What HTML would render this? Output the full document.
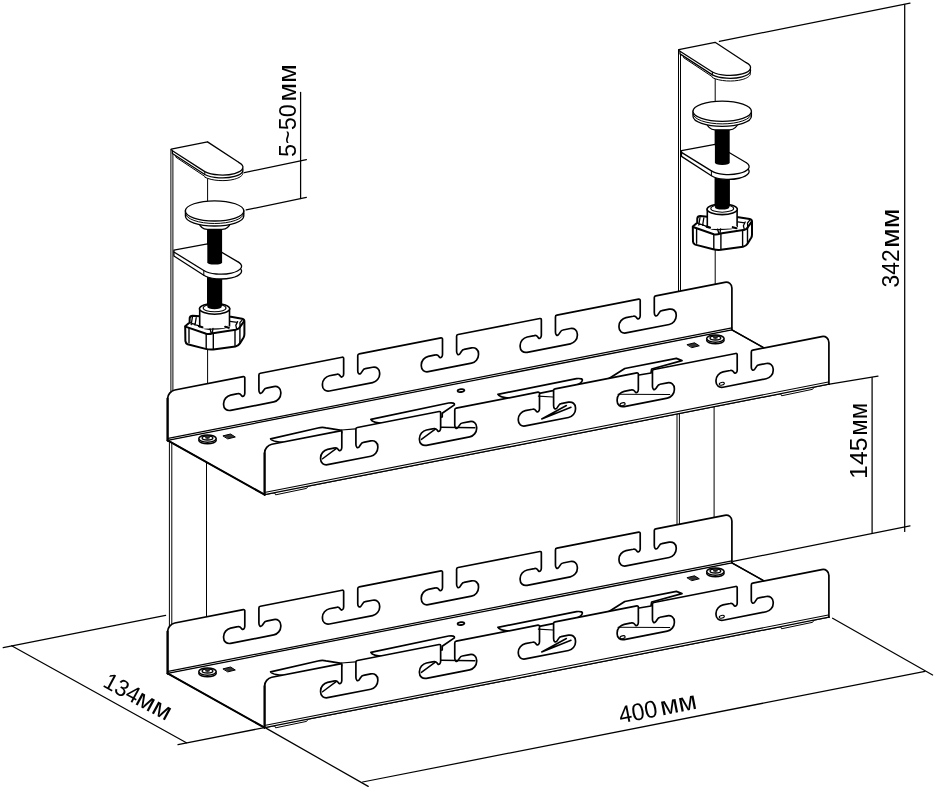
<!DOCTYPE html>
<html lang="en"><head><meta charset="utf-8"><title>Cable tray dimensions</title><style>html,body{margin:0;padding:0;background:#fff}svg{display:block;will-change:transform}</style></head><body><svg width="935" height="789" viewBox="0 0 935 789" stroke-linecap="round"><g transform="translate(0 0)">
<path d="M170.9 149.3L170.9 415M172.9 151L172.9 415M207.6 142L207.6 415M169.4 415L169.4 640M171.8 415L171.8 640M206.5 415L206.5 640" fill="none" stroke="#000" stroke-width="1.0" />
<rect x="207.3" y="272" width="14.8" height="38" fill="#000"/>
<path d="M185.2 326.2L185.4 341.2Q185.6 343.4 187.6 344.2L205.6 348.9Q209.5 349.8 213.3 349.4L235.4 346.4Q238.4 345.8 239.9 343.4L243.6 337.4Q244.4 336 244.4 334L244.4 321.4Q244.4 319.2 242.1 318.7L230.9 316.8L199.8 316.3L192.8 315.7Q190 315.8 189.7 318L189.6 322.4Z" fill="#fff" stroke="#000" stroke-width="2.0" stroke-linejoin="round"/>
<path d="M185.4 326.6L187.6 327.4L206.2 333.8Q209 334.4 212.8 333.2L235.6 329.7Q239.4 328.8 240.4 326.4L244 321.4" fill="none" stroke="#000" stroke-width="2.0" stroke-linejoin="round"/>
<path d="M189 328.4L189 342.8M206.2 334.4L206.2 348.8M213.3 333.6L213.3 349.2M235 330L235 345.8M239.9 327.8L239.9 343.2" fill="none" stroke="#000" stroke-width="1.4" />
<path d="M192.4 317.2L191.2 324.6M196.2 317.6L195 325M189.8 322.6L199.6 326.2M237.6 321.6L235.8 325.4L236.8 329.4M242.2 319.8L239.9 322.6L240.2 327.4M230 321.4L237.2 322.4" fill="none" stroke="#000" stroke-width="1.3" stroke-linejoin="round"/>
<path d="M199.7 308.8L199.7 326.6Q206 329.6 211 329L218 328.6Q224 328.4 229.5 326L229.5 308.8Z" fill="#fff" stroke="#000" stroke-width="1.6" />
<path d="M201.2 327.4L228.2 326.8" fill="none" stroke="#fff" stroke-width="2.6" />
<path d="M199 326.2L202.4 327.2M225.2 326.8L228.8 327.8" fill="none" stroke="#000" stroke-width="2.2" />
<path d="M210 328.8L211.2 333M213 328.4L212.4 332.4" fill="none" stroke="#000" stroke-width="1.3" />
<ellipse cx="214.6" cy="308.8" rx="15.1" ry="5.4" fill="#fff" stroke="#000" stroke-width="1.6"/>
<ellipse cx="214.6" cy="308" rx="11.4" ry="3.8" fill="#fff" stroke="#000" stroke-width="1.1"/>
<ellipse cx="214.5" cy="306.8" rx="7.2" ry="2.4" fill="#000"/>
<rect x="207.3" y="276" width="14.8" height="30.4" fill="#000"/>
<path d="M238.8 262.4L238.8 267.2C244.43 270.85 241.16 275.61 231.5 277.85C221.84 280.09 209.43 278.95 203.8 275.3L173.9 256L173.9 252Z" fill="#fff" stroke="#000" stroke-width="1.3" stroke-linejoin="round"/>
<path d="M173.9 250.2L207.5 243.9L238.8 262.4C244.43 266.05 241.16 270.81 231.5 273.05C221.84 275.29 209.43 274.15 203.8 270.5L173.9 252Z" fill="#fff" stroke="#000" stroke-width="1.3" stroke-linejoin="round"/>
<path d="M203.8 270.5L203.8 275.3" stroke="#000" stroke-width="1.0" fill="none"/>
<path d="M207.3 226L207.3 262.2Q207.3 264.6 214.7 264.6Q222.1 264.6 222.1 262.2L222.1 226Z" fill="#000"/>
<path d="M198.6 222Q200.6 229 207.3 229.4L222.1 229.4Q228.8 229 230.8 222Z" fill="#fff" stroke="#000" stroke-width="1.2" />
<path d="M185.4 210.8L185.4 215.9A29.2 10.1 0 0 0 243.8 215.9L243.8 210.8Z" fill="#fff" stroke="#000" stroke-width="1.3" />
<path d="M185.4 213.4A29.2 10.1 0 0 0 243.8 213.4" fill="none" stroke="#000" stroke-width="1.0" />
<ellipse cx="214.6" cy="210.9" rx="29.2" ry="10.1" fill="#fff" stroke="#000" stroke-width="1.3"/>
<path d="M238.6 165L238.6 167.9C245.72 171.55 243.93 176.58 234.6 179.15C225.27 181.72 211.92 180.85 204.8 177.2L204.8 176.4L175.9 157.2L175.9 153.4" fill="#fff" stroke="#000" stroke-width="1.0" />
<path d="M238.6 162.3L238.6 165.2C245.72 168.85 243.93 173.88 234.6 176.45C225.27 179.02 211.92 178.15 204.8 174.5L172.4 153.5L172.4 150.8Z" fill="#fff" stroke="#000" stroke-width="1.3" stroke-linejoin="round"/>
<path d="M171.2 149.2L207.5 141.9L238.6 162.3C245.72 165.95 243.93 170.98 234.6 173.55C225.27 176.12 211.92 175.25 204.8 171.6L172.4 150.8Z" fill="#fff" stroke="#000" stroke-width="1.3" stroke-linejoin="round"/>
<path d="M204.8 171.6L204.8 174.5" stroke="#000" stroke-width="1.0" fill="none"/>
</g>
<g transform="translate(507.6 -99.6)">
<path d="M170.9 149.3L170.9 415M172.9 151L172.9 415M207.6 142L207.6 415M169.4 415L169.4 640M171.8 415L171.8 640M206.5 415L206.5 640" fill="none" stroke="#000" stroke-width="1.0" />
<rect x="207.3" y="272" width="14.8" height="38" fill="#000"/>
<path d="M185.2 326.2L185.4 341.2Q185.6 343.4 187.6 344.2L205.6 348.9Q209.5 349.8 213.3 349.4L235.4 346.4Q238.4 345.8 239.9 343.4L243.6 337.4Q244.4 336 244.4 334L244.4 321.4Q244.4 319.2 242.1 318.7L230.9 316.8L199.8 316.3L192.8 315.7Q190 315.8 189.7 318L189.6 322.4Z" fill="#fff" stroke="#000" stroke-width="2.0" stroke-linejoin="round"/>
<path d="M185.4 326.6L187.6 327.4L206.2 333.8Q209 334.4 212.8 333.2L235.6 329.7Q239.4 328.8 240.4 326.4L244 321.4" fill="none" stroke="#000" stroke-width="2.0" stroke-linejoin="round"/>
<path d="M189 328.4L189 342.8M206.2 334.4L206.2 348.8M213.3 333.6L213.3 349.2M235 330L235 345.8M239.9 327.8L239.9 343.2" fill="none" stroke="#000" stroke-width="1.4" />
<path d="M192.4 317.2L191.2 324.6M196.2 317.6L195 325M189.8 322.6L199.6 326.2M237.6 321.6L235.8 325.4L236.8 329.4M242.2 319.8L239.9 322.6L240.2 327.4M230 321.4L237.2 322.4" fill="none" stroke="#000" stroke-width="1.3" stroke-linejoin="round"/>
<path d="M199.7 308.8L199.7 326.6Q206 329.6 211 329L218 328.6Q224 328.4 229.5 326L229.5 308.8Z" fill="#fff" stroke="#000" stroke-width="1.6" />
<path d="M201.2 327.4L228.2 326.8" fill="none" stroke="#fff" stroke-width="2.6" />
<path d="M199 326.2L202.4 327.2M225.2 326.8L228.8 327.8" fill="none" stroke="#000" stroke-width="2.2" />
<path d="M210 328.8L211.2 333M213 328.4L212.4 332.4" fill="none" stroke="#000" stroke-width="1.3" />
<ellipse cx="214.6" cy="308.8" rx="15.1" ry="5.4" fill="#fff" stroke="#000" stroke-width="1.6"/>
<ellipse cx="214.6" cy="308" rx="11.4" ry="3.8" fill="#fff" stroke="#000" stroke-width="1.1"/>
<ellipse cx="214.5" cy="306.8" rx="7.2" ry="2.4" fill="#000"/>
<rect x="207.3" y="276" width="14.8" height="30.4" fill="#000"/>
<path d="M238.8 262.4L238.8 267.2C244.43 270.85 241.16 275.61 231.5 277.85C221.84 280.09 209.43 278.95 203.8 275.3L173.9 256L173.9 252Z" fill="#fff" stroke="#000" stroke-width="1.3" stroke-linejoin="round"/>
<path d="M173.9 250.2L207.5 243.9L238.8 262.4C244.43 266.05 241.16 270.81 231.5 273.05C221.84 275.29 209.43 274.15 203.8 270.5L173.9 252Z" fill="#fff" stroke="#000" stroke-width="1.3" stroke-linejoin="round"/>
<path d="M203.8 270.5L203.8 275.3" stroke="#000" stroke-width="1.0" fill="none"/>
<path d="M207.3 226L207.3 262.2Q207.3 264.6 214.7 264.6Q222.1 264.6 222.1 262.2L222.1 226Z" fill="#000"/>
<path d="M198.6 222Q200.6 229 207.3 229.4L222.1 229.4Q228.8 229 230.8 222Z" fill="#fff" stroke="#000" stroke-width="1.2" />
<path d="M185.4 210.8L185.4 215.9A29.2 10.1 0 0 0 243.8 215.9L243.8 210.8Z" fill="#fff" stroke="#000" stroke-width="1.3" />
<path d="M185.4 213.4A29.2 10.1 0 0 0 243.8 213.4" fill="none" stroke="#000" stroke-width="1.0" />
<ellipse cx="214.6" cy="210.9" rx="29.2" ry="10.1" fill="#fff" stroke="#000" stroke-width="1.3"/>
<path d="M238.6 165L238.6 167.9C245.72 171.55 243.93 176.58 234.6 179.15C225.27 181.72 211.92 180.85 204.8 177.2L204.8 176.4L175.9 157.2L175.9 153.4" fill="#fff" stroke="#000" stroke-width="1.0" />
<path d="M238.6 162.3L238.6 165.2C245.72 168.85 243.93 173.88 234.6 176.45C225.27 179.02 211.92 178.15 204.8 174.5L172.4 153.5L172.4 150.8Z" fill="#fff" stroke="#000" stroke-width="1.3" stroke-linejoin="round"/>
<path d="M171.2 149.2L207.5 141.9L238.6 162.3C245.72 165.95 243.93 170.98 234.6 173.55C225.27 176.12 211.92 175.25 204.8 171.6L172.4 150.8Z" fill="#fff" stroke="#000" stroke-width="1.3" stroke-linejoin="round"/>
<path d="M204.8 171.6L204.8 174.5" stroke="#000" stroke-width="1.0" fill="none"/>
</g>
<path d="M167.6 440.4L167.6 398.6C167.6 394.62 170.82 390.77 174.8 389.99L243.3 376.58C244.13 376.42 244.8 376.96 244.8 377.78L244.8 393.28C244.8 395.48 243.2 397 242 396.03C241 395.23 240.6 392.91 237.8 393.65L230.6 395.06C226.73 395.82 223.6 399.57 223.6 403.44L223.6 404.74C223.6 408.6 226.73 411.12 230.6 410.36L273.8 401.91C277.67 401.15 280.8 397.4 280.8 393.54L280.8 392.24C280.8 388.37 277.67 385.85 273.8 386.61L266.4 388.05C264.1 388.21 263.5 391.22 261.9 392.74C260.5 394.01 258.9 393.12 258.9 390.02L258.9 375.02C258.9 374.2 259.57 373.39 260.4 373.23L342.15 357.22C342.98 357.06 343.65 357.6 343.65 358.43L343.65 373.93C343.65 376.13 342.05 377.64 340.85 376.68C339.85 375.87 339.45 373.55 336.65 374.3L329.45 375.71C325.58 376.47 322.45 380.21 322.45 384.08L322.45 385.38C322.45 389.25 325.58 391.77 329.45 391.01L372.65 382.55C376.52 381.79 379.65 378.05 379.65 374.18L379.65 372.88C379.65 369.01 376.52 366.49 372.65 367.25L365.25 368.7C362.95 368.85 362.35 371.87 360.75 373.38C359.35 374.66 357.75 373.77 357.75 370.67L357.75 355.67C357.75 354.84 358.42 354.04 359.25 353.87L441 337.87C441.83 337.71 442.5 338.25 442.5 339.07L442.5 354.57C442.5 356.77 440.9 358.29 439.7 357.32C438.7 356.52 438.3 354.2 435.5 354.95L428.3 356.35C424.43 357.11 421.3 360.86 421.3 364.73L421.3 366.03C421.3 369.89 424.43 372.41 428.3 371.65L471.5 363.2C475.37 362.44 478.5 358.69 478.5 354.83L478.5 353.53C478.5 349.66 475.37 347.14 471.5 347.9L464.1 349.35C461.8 349.5 461.2 352.51 459.6 354.03C458.2 355.3 456.6 354.41 456.6 351.31L456.6 336.31C456.6 335.49 457.27 334.68 458.1 334.52L539.85 318.51C540.68 318.35 541.35 318.89 541.35 319.72L541.35 335.22C541.35 337.42 539.75 338.93 538.55 337.97C537.55 337.16 537.15 334.84 534.35 335.59L527.15 337C523.28 337.76 520.15 341.5 520.15 345.37L520.15 346.67C520.15 350.54 523.28 353.06 527.15 352.3L570.35 343.84C574.22 343.08 577.35 339.34 577.35 335.47L577.35 334.17C577.35 330.3 574.22 327.78 570.35 328.54L562.95 329.99C560.65 330.14 560.05 333.16 558.45 334.67C557.05 335.95 555.45 335.06 555.45 331.96L555.45 316.96C555.45 316.13 556.12 315.33 556.95 315.17L638.7 299.16C639.53 299 640.2 299.54 640.2 300.36L640.2 315.86C640.2 318.06 638.6 319.58 637.4 318.61C636.4 317.81 636 315.49 633.2 316.24L626 317.65C622.13 318.4 619 322.15 619 326.02L619 327.32C619 331.18 622.13 333.7 626 332.95L669.2 324.49C673.07 323.73 676.2 319.98 676.2 316.12L676.2 314.82C676.2 310.95 673.07 308.43 669.2 309.19L661.8 310.64C659.5 310.79 658.9 313.8 657.3 315.32C655.9 316.59 654.3 315.7 654.3 312.6L654.3 297.6C654.3 296.78 654.97 295.97 655.8 295.81L724.7 282.32C728.68 281.54 731.9 284.13 731.9 288.11L731.9 329.91" fill="#fff" stroke="#000" stroke-width="1.7" stroke-linejoin="round"/>
<path d="M168.2 438.38L731.9 327.81" stroke="#000" stroke-width="1.25" fill="none"/>
<path d="M167.9 440.84L731.9 330.41" stroke="#000" stroke-width="1.25" fill="none"/>
<path d="M167.6 440.4L167.6 398.6" stroke="#000" stroke-width="2.1" fill="none"/>
<path d="M167.6 440.4L731.9 329.91L828.9 384.21L264.6 494.7Z" fill="#fff" stroke="#000" stroke-width="1.25" stroke-linejoin="round"/>
<path d="M167.6 440.4L264.6 494.7" stroke="#000" stroke-width="2.0" fill="none"/>
<path d="M731.9 329.91L828.9 384.21" stroke="#000" stroke-width="1.4" fill="none"/>
<ellipse cx="207.5" cy="440.2" rx="8.7" ry="3.6" fill="#fff" stroke="#000" stroke-width="1.55"/>
<ellipse cx="207.5" cy="438.6" rx="8.7" ry="3.6" fill="#fff" stroke="#000" stroke-width="1.55"/>
<ellipse cx="207.5" cy="438" rx="5.4" ry="2.0" fill="#fff" stroke="#000" stroke-width="1.3"/>
<ellipse cx="207.5" cy="437.8" rx="2.6" ry="1.1" fill="#222" stroke="none"/>
<ellipse cx="715.4" cy="340.2" rx="8.7" ry="3.6" fill="#fff" stroke="#000" stroke-width="1.55"/>
<ellipse cx="715.4" cy="338.6" rx="8.7" ry="3.6" fill="#fff" stroke="#000" stroke-width="1.55"/>
<ellipse cx="715.4" cy="338" rx="5.4" ry="2.0" fill="#fff" stroke="#000" stroke-width="1.3"/>
<ellipse cx="715.4" cy="337.8" rx="2.6" ry="1.1" fill="#222" stroke="none"/>
<path d="M223.3 435.8L230.5 434L235.3 437L228.1 438.8Z" fill="#333" stroke="#000" stroke-width="1.0" />
<path d="M687.3 344.6L694.5 342.8L699.3 345.8L692.1 347.6Z" fill="#333" stroke="#000" stroke-width="1.0" />
<ellipse cx="461" cy="390.6" rx="3.4" ry="1.4" fill="#fff" stroke="#000" stroke-width="1.8" transform="rotate(-8 461 390.6)"/>
<path d="M270.6 438.8 L318 428 Q322 427 326 427.8 L341.6 430.4 L341.6 433 L290 442.6 Q272 442.4 270.6 438.8 Z" fill="#fff" stroke="#000" stroke-width="1.75" stroke-linejoin="round"/>
<path d="M370.9 419.4 L448.6 403 Q455 402.2 454.4 404.9 L442.2 413.3 L442.2 417 L386 423.4 Q372 423 370.9 419.4 Z" fill="#fff" stroke="#000" stroke-width="1.75" stroke-linejoin="round"/>
<path d="M497.9 394.3 L576.5 378.6 Q583.5 378 582.1 381 Q581 383.6 573 386.6 L513 398.6 Q499 397.6 497.9 394.3 Z" fill="#fff" stroke="#000" stroke-width="1.75" stroke-linejoin="round"/>
<path d="M609 378.6 L624.8 368.5 L676.4 358.4 L682 360.6 L651.7 369 L651 373 L609 380 Z" fill="#fff" stroke="#000" stroke-width="1.75" stroke-linejoin="round"/>
<path d="M341.6 430 L355.6 428.8 " fill="none" stroke="#000" stroke-width="1.2" />
<path d="M274.6 492.74L275.6 494.84L306.6 488.38L308 486.28" fill="#fff" stroke="#000" stroke-width="1.0" />
<path d="M780.6 393.67L781.6 395.77L812.6 389.3L814 387.2" fill="#fff" stroke="#000" stroke-width="1.0" />
<path d="M264.6 494.7L264.6 452.9C264.6 448.92 267.82 445.07 271.8 444.29L340.3 430.88C341.13 430.72 341.8 431.26 341.8 432.08L341.8 447.58C341.8 449.78 340.2 451.3 339 450.33C338 449.53 337.6 447.21 334.8 447.95L327.6 449.36C323.73 450.12 320.6 453.87 320.6 457.74L320.6 459.04C320.6 462.9 323.73 465.42 327.6 464.66L370.8 456.21C374.67 455.45 377.8 451.7 377.8 447.84L377.8 446.54C377.8 442.67 374.67 440.15 370.8 440.91L363.4 442.35C361.1 442.51 360.5 445.52 358.9 447.04C357.5 448.31 355.9 447.42 355.9 444.32L355.9 429.32C355.9 428.5 356.57 427.69 357.4 427.53L439.15 411.52C439.98 411.36 440.65 411.9 440.65 412.73L440.65 428.23C440.65 430.43 439.05 431.94 437.85 430.98C436.85 430.17 436.45 427.85 433.65 428.6L426.45 430.01C422.58 430.77 419.45 434.51 419.45 438.38L419.45 439.68C419.45 443.55 422.58 446.07 426.45 445.31L469.65 436.85C473.52 436.09 476.65 432.35 476.65 428.48L476.65 427.18C476.65 423.31 473.52 420.79 469.65 421.55L462.25 423C459.95 423.15 459.35 426.17 457.75 427.68C456.35 428.96 454.75 428.07 454.75 424.97L454.75 409.97C454.75 409.14 455.42 408.34 456.25 408.17L538 392.17C538.83 392.01 539.5 392.55 539.5 393.37L539.5 408.87C539.5 411.07 537.9 412.59 536.7 411.62C535.7 410.82 535.3 408.5 532.5 409.25L525.3 410.65C521.43 411.41 518.3 415.16 518.3 419.03L518.3 420.33C518.3 424.19 521.43 426.71 525.3 425.95L568.5 417.5C572.37 416.74 575.5 412.99 575.5 409.13L575.5 407.83C575.5 403.96 572.37 401.44 568.5 402.2L561.1 403.65C558.8 403.8 558.2 406.81 556.6 408.33C555.2 409.6 553.6 408.71 553.6 405.61L553.6 390.61C553.6 389.79 554.27 388.98 555.1 388.82L636.85 372.81C637.68 372.65 638.35 373.19 638.35 374.02L638.35 389.52C638.35 391.72 636.75 393.23 635.55 392.27C634.55 391.46 634.15 389.14 631.35 389.89L624.15 391.3C620.28 392.06 617.15 395.8 617.15 399.67L617.15 400.97C617.15 404.84 620.28 407.36 624.15 406.6L667.35 398.14C671.22 397.38 674.35 393.64 674.35 389.77L674.35 388.47C674.35 384.6 671.22 382.08 667.35 382.84L659.95 384.29C657.65 384.44 657.05 387.46 655.45 388.97C654.05 390.25 652.45 389.36 652.45 386.26L652.45 371.26C652.45 370.43 653.12 369.63 653.95 369.47L735.7 353.46C736.53 353.3 737.2 353.84 737.2 354.66L737.2 370.16C737.2 372.36 735.6 373.88 734.4 372.91C733.4 372.11 733 369.79 730.2 370.54L723 371.95C719.13 372.7 716 376.45 716 380.32L716 381.62C716 385.48 719.13 388 723 387.25L766.2 378.79C770.07 378.03 773.2 374.28 773.2 370.42L773.2 369.12C773.2 365.25 770.07 362.73 766.2 363.49L758.8 364.94C756.5 365.09 755.9 368.1 754.3 369.62C752.9 370.89 751.3 370 751.3 366.9L751.3 351.9C751.3 351.08 751.97 350.27 752.8 350.11L821.7 336.62C825.68 335.84 828.9 338.43 828.9 342.41L828.9 384.21" fill="#fff" stroke="#000" stroke-width="1.7" stroke-linejoin="round"/>
<path d="M264.6 494.7L828.9 384.21" stroke="#000" stroke-width="1.2" fill="none"/>
<path d="M265.6 492.2L828.3 382.03" stroke="#000" stroke-width="1.1" fill="none"/>
<path d="M264.6 494.7L264.6 452.9" stroke="#000" stroke-width="2.0" fill="none"/>
<path d="M322.55 458.75L336.45 448.43" stroke="#000" stroke-width="1.5" fill="none"/>
<path d="M421.4 439.4L435.3 429.08" stroke="#000" stroke-width="1.5" fill="none"/>
<path d="M441.2 427.3 L474.9 427.8 " fill="none" stroke="#000" stroke-width="1.4" />
<path d="M538.3 396.1 L552.9 397 " fill="none" stroke="#000" stroke-width="1.1" />
<path d="M566.4 405.5 L541.7 419 L571 407.2 " fill="none" stroke="#000" stroke-width="1.5" stroke-linejoin="round"/>
<path d="M618 394.3 L669.7 394.5 " fill="none" stroke="#000" stroke-width="1.1" />
<ellipse cx="622.6" cy="404.2" rx="2.6" ry="1.4" fill="none" stroke="#000" stroke-width="1.1" transform="rotate(-15 622.6 404.2)"/>
<ellipse cx="721.8" cy="383.8" rx="2.6" ry="1.3" fill="none" stroke="#000" stroke-width="1.1" transform="rotate(-15 721.8 383.8)"/>
<path d="M167.6 673.4L167.6 631.6C167.6 627.62 170.82 623.77 174.8 622.99L243.3 609.58C244.13 609.42 244.8 609.96 244.8 610.78L244.8 626.28C244.8 628.48 243.2 630 242 629.03C241 628.23 240.6 625.91 237.8 626.65L230.6 628.06C226.73 628.82 223.6 632.57 223.6 636.44L223.6 637.74C223.6 641.6 226.73 644.12 230.6 643.36L273.8 634.91C277.67 634.15 280.8 630.4 280.8 626.54L280.8 625.24C280.8 621.37 277.67 618.85 273.8 619.61L266.4 621.05C264.1 621.21 263.5 624.22 261.9 625.74C260.5 627.01 258.9 626.12 258.9 623.02L258.9 608.02C258.9 607.2 259.57 606.39 260.4 606.23L342.15 590.22C342.98 590.06 343.65 590.6 343.65 591.43L343.65 606.93C343.65 609.13 342.05 610.64 340.85 609.68C339.85 608.87 339.45 606.55 336.65 607.3L329.45 608.71C325.58 609.47 322.45 613.21 322.45 617.08L322.45 618.38C322.45 622.25 325.58 624.77 329.45 624.01L372.65 615.55C376.52 614.79 379.65 611.05 379.65 607.18L379.65 605.88C379.65 602.01 376.52 599.49 372.65 600.25L365.25 601.7C362.95 601.85 362.35 604.87 360.75 606.38C359.35 607.66 357.75 606.77 357.75 603.67L357.75 588.67C357.75 587.84 358.42 587.04 359.25 586.87L441 570.87C441.83 570.71 442.5 571.25 442.5 572.07L442.5 587.57C442.5 589.77 440.9 591.29 439.7 590.32C438.7 589.52 438.3 587.2 435.5 587.95L428.3 589.35C424.43 590.11 421.3 593.86 421.3 597.73L421.3 599.03C421.3 602.89 424.43 605.41 428.3 604.65L471.5 596.2C475.37 595.44 478.5 591.69 478.5 587.83L478.5 586.53C478.5 582.66 475.37 580.14 471.5 580.9L464.1 582.35C461.8 582.5 461.2 585.51 459.6 587.03C458.2 588.3 456.6 587.41 456.6 584.31L456.6 569.31C456.6 568.49 457.27 567.68 458.1 567.52L539.85 551.51C540.68 551.35 541.35 551.89 541.35 552.72L541.35 568.22C541.35 570.42 539.75 571.93 538.55 570.97C537.55 570.16 537.15 567.84 534.35 568.59L527.15 570C523.28 570.76 520.15 574.5 520.15 578.37L520.15 579.67C520.15 583.54 523.28 586.06 527.15 585.3L570.35 576.84C574.22 576.08 577.35 572.34 577.35 568.47L577.35 567.17C577.35 563.3 574.22 560.78 570.35 561.54L562.95 562.99C560.65 563.14 560.05 566.16 558.45 567.67C557.05 568.95 555.45 568.06 555.45 564.96L555.45 549.96C555.45 549.13 556.12 548.33 556.95 548.17L638.7 532.16C639.53 532 640.2 532.54 640.2 533.36L640.2 548.86C640.2 551.06 638.6 552.58 637.4 551.61C636.4 550.81 636 548.49 633.2 549.24L626 550.65C622.13 551.4 619 555.15 619 559.02L619 560.32C619 564.18 622.13 566.7 626 565.95L669.2 557.49C673.07 556.73 676.2 552.98 676.2 549.12L676.2 547.82C676.2 543.95 673.07 541.43 669.2 542.19L661.8 543.64C659.5 543.79 658.9 546.8 657.3 548.32C655.9 549.59 654.3 548.7 654.3 545.6L654.3 530.6C654.3 529.78 654.97 528.97 655.8 528.81L724.7 515.32C728.68 514.54 731.9 517.13 731.9 521.11L731.9 562.91" fill="#fff" stroke="#000" stroke-width="1.7" stroke-linejoin="round"/>
<path d="M168.2 671.38L731.9 560.81" stroke="#000" stroke-width="1.25" fill="none"/>
<path d="M167.9 673.84L731.9 563.41" stroke="#000" stroke-width="1.25" fill="none"/>
<path d="M167.6 673.4L167.6 631.6" stroke="#000" stroke-width="2.1" fill="none"/>
<path d="M167.6 673.4L731.9 562.91L828.9 617.21L264.6 727.7Z" fill="#fff" stroke="#000" stroke-width="1.25" stroke-linejoin="round"/>
<path d="M167.6 673.4L264.6 727.7" stroke="#000" stroke-width="2.0" fill="none"/>
<path d="M731.9 562.91L828.9 617.21" stroke="#000" stroke-width="1.4" fill="none"/>
<ellipse cx="207.5" cy="673.2" rx="8.7" ry="3.6" fill="#fff" stroke="#000" stroke-width="1.55"/>
<ellipse cx="207.5" cy="671.6" rx="8.7" ry="3.6" fill="#fff" stroke="#000" stroke-width="1.55"/>
<ellipse cx="207.5" cy="671" rx="5.4" ry="2.0" fill="#fff" stroke="#000" stroke-width="1.3"/>
<ellipse cx="207.5" cy="670.8" rx="2.6" ry="1.1" fill="#222" stroke="none"/>
<ellipse cx="715.4" cy="573.2" rx="8.7" ry="3.6" fill="#fff" stroke="#000" stroke-width="1.55"/>
<ellipse cx="715.4" cy="571.6" rx="8.7" ry="3.6" fill="#fff" stroke="#000" stroke-width="1.55"/>
<ellipse cx="715.4" cy="571" rx="5.4" ry="2.0" fill="#fff" stroke="#000" stroke-width="1.3"/>
<ellipse cx="715.4" cy="570.8" rx="2.6" ry="1.1" fill="#222" stroke="none"/>
<path d="M223.3 668.8L230.5 667L235.3 670L228.1 671.8Z" fill="#333" stroke="#000" stroke-width="1.0" />
<path d="M687.3 577.6L694.5 575.8L699.3 578.8L692.1 580.6Z" fill="#333" stroke="#000" stroke-width="1.0" />
<ellipse cx="461" cy="623.6" rx="3.4" ry="1.4" fill="#fff" stroke="#000" stroke-width="1.8" transform="rotate(-8 461 623.6)"/>
<path d="M270.6 671.8 L318 661 Q322 660 326 660.8 L341.6 663.4 L341.6 666 L290 675.6 Q272 675.4 270.6 671.8 Z" fill="#fff" stroke="#000" stroke-width="1.75" stroke-linejoin="round"/>
<path d="M370.9 652.4 L448.6 636 Q455 635.2 454.4 637.9 L442.2 646.3 L442.2 650 L386 656.4 Q372 656 370.9 652.4 Z" fill="#fff" stroke="#000" stroke-width="1.75" stroke-linejoin="round"/>
<path d="M497.9 627.3 L576.5 611.6 Q583.5 611 582.1 614 Q581 616.6 573 619.6 L513 631.6 Q499 630.6 497.9 627.3 Z" fill="#fff" stroke="#000" stroke-width="1.75" stroke-linejoin="round"/>
<path d="M609 611.6 L624.8 601.5 L676.4 591.4 L682 593.6 L651.7 602 L651 606 L609 613 Z" fill="#fff" stroke="#000" stroke-width="1.75" stroke-linejoin="round"/>
<path d="M341.6 663 L355.6 661.8 " fill="none" stroke="#000" stroke-width="1.2" />
<path d="M274.6 725.74L275.6 727.84L306.6 721.38L308 719.28" fill="#fff" stroke="#000" stroke-width="1.0" />
<path d="M780.6 626.67L781.6 628.77L812.6 622.3L814 620.2" fill="#fff" stroke="#000" stroke-width="1.0" />
<path d="M264.6 727.7L264.6 685.9C264.6 681.92 267.82 678.07 271.8 677.29L340.3 663.88C341.13 663.72 341.8 664.26 341.8 665.08L341.8 680.58C341.8 682.78 340.2 684.3 339 683.33C338 682.53 337.6 680.21 334.8 680.95L327.6 682.36C323.73 683.12 320.6 686.87 320.6 690.74L320.6 692.04C320.6 695.9 323.73 698.42 327.6 697.66L370.8 689.21C374.67 688.45 377.8 684.7 377.8 680.84L377.8 679.54C377.8 675.67 374.67 673.15 370.8 673.91L363.4 675.35C361.1 675.51 360.5 678.52 358.9 680.04C357.5 681.31 355.9 680.42 355.9 677.32L355.9 662.32C355.9 661.5 356.57 660.69 357.4 660.53L439.15 644.52C439.98 644.36 440.65 644.9 440.65 645.73L440.65 661.23C440.65 663.43 439.05 664.94 437.85 663.98C436.85 663.17 436.45 660.85 433.65 661.6L426.45 663.01C422.58 663.77 419.45 667.51 419.45 671.38L419.45 672.68C419.45 676.55 422.58 679.07 426.45 678.31L469.65 669.85C473.52 669.09 476.65 665.35 476.65 661.48L476.65 660.18C476.65 656.31 473.52 653.79 469.65 654.55L462.25 656C459.95 656.15 459.35 659.17 457.75 660.68C456.35 661.96 454.75 661.07 454.75 657.97L454.75 642.97C454.75 642.14 455.42 641.34 456.25 641.17L538 625.17C538.83 625.01 539.5 625.55 539.5 626.37L539.5 641.87C539.5 644.07 537.9 645.59 536.7 644.62C535.7 643.82 535.3 641.5 532.5 642.25L525.3 643.65C521.43 644.41 518.3 648.16 518.3 652.03L518.3 653.33C518.3 657.19 521.43 659.71 525.3 658.95L568.5 650.5C572.37 649.74 575.5 645.99 575.5 642.13L575.5 640.83C575.5 636.96 572.37 634.44 568.5 635.2L561.1 636.65C558.8 636.8 558.2 639.81 556.6 641.33C555.2 642.6 553.6 641.71 553.6 638.61L553.6 623.61C553.6 622.79 554.27 621.98 555.1 621.82L636.85 605.81C637.68 605.65 638.35 606.19 638.35 607.02L638.35 622.52C638.35 624.72 636.75 626.23 635.55 625.27C634.55 624.46 634.15 622.14 631.35 622.89L624.15 624.3C620.28 625.06 617.15 628.8 617.15 632.67L617.15 633.97C617.15 637.84 620.28 640.36 624.15 639.6L667.35 631.14C671.22 630.38 674.35 626.64 674.35 622.77L674.35 621.47C674.35 617.6 671.22 615.08 667.35 615.84L659.95 617.29C657.65 617.44 657.05 620.46 655.45 621.97C654.05 623.25 652.45 622.36 652.45 619.26L652.45 604.26C652.45 603.43 653.12 602.63 653.95 602.47L735.7 586.46C736.53 586.3 737.2 586.84 737.2 587.66L737.2 603.16C737.2 605.36 735.6 606.88 734.4 605.91C733.4 605.11 733 602.79 730.2 603.54L723 604.95C719.13 605.7 716 609.45 716 613.32L716 614.62C716 618.48 719.13 621 723 620.25L766.2 611.79C770.07 611.03 773.2 607.28 773.2 603.42L773.2 602.12C773.2 598.25 770.07 595.73 766.2 596.49L758.8 597.94C756.5 598.09 755.9 601.1 754.3 602.62C752.9 603.89 751.3 603 751.3 599.9L751.3 584.9C751.3 584.08 751.97 583.27 752.8 583.11L821.7 569.62C825.68 568.84 828.9 571.43 828.9 575.41L828.9 617.21" fill="#fff" stroke="#000" stroke-width="1.7" stroke-linejoin="round"/>
<path d="M264.6 727.7L828.9 617.21" stroke="#000" stroke-width="1.2" fill="none"/>
<path d="M265.6 725.2L828.3 615.03" stroke="#000" stroke-width="1.1" fill="none"/>
<path d="M264.6 727.7L264.6 685.9" stroke="#000" stroke-width="2.0" fill="none"/>
<path d="M322.55 691.75L336.45 681.43" stroke="#000" stroke-width="1.5" fill="none"/>
<path d="M421.4 672.4L435.3 662.08" stroke="#000" stroke-width="1.5" fill="none"/>
<path d="M441.2 660.3 L474.9 660.8 " fill="none" stroke="#000" stroke-width="1.4" />
<path d="M538.3 629.1 L552.9 630 " fill="none" stroke="#000" stroke-width="1.1" />
<path d="M566.4 638.5 L541.7 652 L571 640.2 " fill="none" stroke="#000" stroke-width="1.5" stroke-linejoin="round"/>
<path d="M618 627.3 L669.7 627.5 " fill="none" stroke="#000" stroke-width="1.1" />
<ellipse cx="622.6" cy="637.2" rx="2.6" ry="1.4" fill="none" stroke="#000" stroke-width="1.1" transform="rotate(-15 622.6 637.2)"/>
<ellipse cx="721.8" cy="616.8" rx="2.6" ry="1.3" fill="none" stroke="#000" stroke-width="1.1" transform="rotate(-15 721.8 616.8)"/>
<path d="M300.6 92.4L300.6 198.6" stroke="#000" stroke-width="1.25" fill="none"/>
<path d="M244.4 172.6L306.4 159.7" stroke="#000" stroke-width="1.25" fill="none"/>
<path d="M246.2 209.9L306.4 197.3" stroke="#000" stroke-width="1.25" fill="none"/>
<path d="M904.7 4.6L904.7 531.4" stroke="#000" stroke-width="1.25" fill="none"/>
<path d="M719.4 41.4L910 3.2" stroke="#000" stroke-width="1.25" fill="none"/>
<path d="M733 561.4L910 525.9" stroke="#000" stroke-width="1.25" fill="none"/>
<path d="M872.1 377.6L872.1 533.4" stroke="#000" stroke-width="1.25" fill="none"/>
<path d="M829.6 384.2L878 376.2" stroke="#000" stroke-width="1.25" fill="none"/>
<path d="M3.2 647.6L165.6 615.4" stroke="#000" stroke-width="1.25" fill="none"/>
<path d="M11.6 645.8L186.4 742.8" stroke="#000" stroke-width="1.25" fill="none"/>
<path d="M178 744.6L264.4 727.6" stroke="#000" stroke-width="1.25" fill="none"/>
<path d="M266.4 728.4L368.2 786.4" stroke="#000" stroke-width="1.25" fill="none"/>
<path d="M362.6 782L925 671.3" stroke="#000" stroke-width="1.25" fill="none"/>
<path d="M832.6 618.2L932.6 675" stroke="#000" stroke-width="1.25" fill="none"/>
<g transform="translate(295.9 157) rotate(-90)" font-family="'Liberation Sans', sans-serif" fill="#000"><text x="0" y="0" font-size="24.2" textLength="52.8" lengthAdjust="spacingAndGlyphs">5~50</text><text x="55.2" y="0" font-size="25.8" textLength="37.6" lengthAdjust="spacingAndGlyphs">мм</text></g>
<g transform="translate(899 287.4) rotate(-90)" font-family="'Liberation Sans', sans-serif" fill="#000"><text x="0" y="0" font-size="24.2" textLength="38" lengthAdjust="spacingAndGlyphs">342</text><text x="39.4" y="0" font-size="25.8" textLength="39.4" lengthAdjust="spacingAndGlyphs">мм</text></g>
<g transform="translate(866.6 478.9) rotate(-90)" font-family="'Liberation Sans', sans-serif" fill="#000"><text x="0" y="0" font-size="24.2" textLength="41.4" lengthAdjust="spacingAndGlyphs">145</text><text x="43.2" y="0" font-size="25.8" textLength="33" lengthAdjust="spacingAndGlyphs">мм</text></g>
<g transform="translate(620.6 723.6) rotate(-11)" font-family="'Liberation Sans', sans-serif" fill="#000"><text x="0" y="0" font-size="24.2" textLength="38.8" lengthAdjust="spacingAndGlyphs">400</text><text x="41.8" y="0" font-size="25.8" textLength="37" lengthAdjust="spacingAndGlyphs">мм</text></g>
<g transform="translate(101.8 686) rotate(28.6)" font-family="'Liberation Sans', sans-serif" fill="#000"><text x="0" y="0" font-size="23.4" textLength="37.6" lengthAdjust="spacingAndGlyphs">134</text><text x="36.6" y="0" font-size="25.2" textLength="37" lengthAdjust="spacingAndGlyphs">мм</text></g></svg></body></html>
